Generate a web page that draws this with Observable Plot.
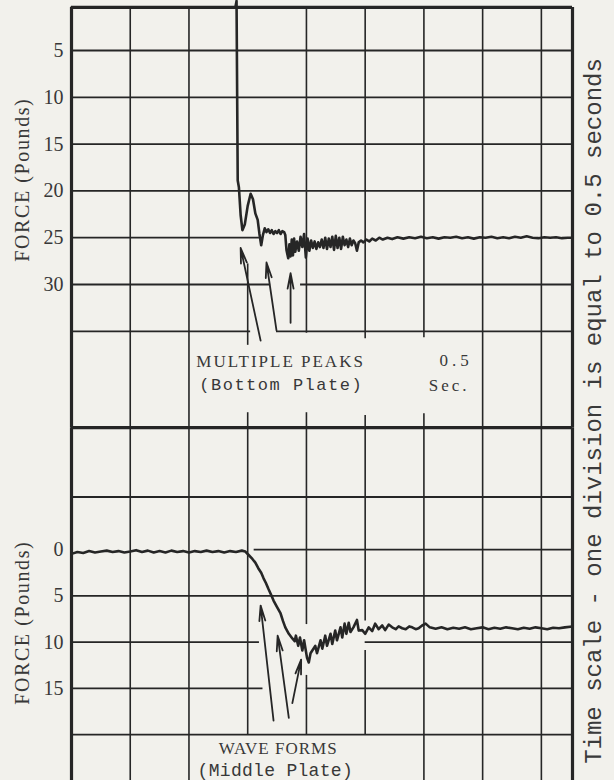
<!DOCTYPE html>
<html>
<head>
<meta charset="utf-8">
<script src="https://cdn.jsdelivr.net/npm/d3@7"></script>
<script src="https://cdn.jsdelivr.net/npm/@observablehq/plot@0.6"></script>
<style>
  html, body { margin: 0; padding: 0; background: #f2f1ec; }
  #wrap { position: relative; width: 614px; height: 780px; overflow: hidden; background: #f2f1ec; }
  #wrap svg { position: absolute; left: 0; top: 0; }
  #timescale {
    position: absolute; left: 595px; top: 411px;
    transform: translate(-50%, -50%) rotate(-90deg);
    font-family: "Liberation Mono", monospace; font-size: 24px;
    white-space: nowrap; color: #3a3a3a; line-height: 1;
  }
</style>
</head>
<body>
<div id="wrap"><div id="timescale">Time scale - one division is equal to 0.5 seconds</div></div>
<script>
// x unit: grid division (one division = 0.5 seconds); y unit: force in pounds (drawn increasing downward)
const X_MAX = 8.53;

// Top recording: MULTIPLE PEAKS (Bottom Plate) — [division, force]
const topTrace = [
  [0,0.4],[2.79,0.4],[2.81,-0.3],[2.83,18.9],[2.85,19.6],[2.88,22.6],[2.91,24.2],[2.95,23.6],
  [3.00,21.6],[3.05,20.3],[3.09,20.9],[3.13,22.4],[3.17,23.1],[3.20,24.6],[3.23,25.8],[3.26,24.7],
  [3.29,24.0],[3.32,24.4],[3.35,24.1],[3.38,24.5],[3.41,24.2],[3.44,24.6],[3.47,24.3],[3.50,24.5],
  [3.53,24.2],[3.56,24.6],[3.59,24.3],[3.62,24.4],[3.64,24.7],[3.66,26.3],[3.69,27.2],[3.71,25.7],
  [3.73,27.0],[3.75,25.2],[3.77,26.9],[3.79,25.1],[3.81,26.5],[3.84,25.4],[3.87,26.4],[3.90,24.9],
  [3.93,26.0],[3.96,24.6],[3.99,27.1],[4.02,25.1],[4.05,26.4],[4.08,25.3],[4.11,26.1],[4.14,25.4],
  [4.17,26.2],[4.20,25.5],[4.23,26.0],[4.26,25.2],[4.29,26.1],[4.32,25.0],[4.35,26.2],[4.38,25.1],
  [4.41,26.0],[4.44,24.9],[4.47,26.3],[4.50,24.8],[4.53,26.1],[4.56,25.0],[4.59,26.2],[4.62,24.9],
  [4.65,25.8],[4.68,25.2],[4.71,26.0],[4.74,25.1],[4.77,25.8],[4.80,25.3],[4.83,25.6],[4.86,26.4],
  [4.89,25.5],[4.93,25.3],[4.97,25.5],[5.02,25.2],[5.07,25.4],[5.12,25.1],[5.18,25.3],[5.24,25.0],
  [5.30,25.2],[5.38,25.0],[5.46,25.15],[5.55,24.95],[5.65,25.1],[5.75,24.95],[5.85,25.05],[5.95,24.9],
  [6.05,25.05],[6.15,24.95],[6.25,25.1],[6.35,24.95],[6.45,25.0],[6.55,24.9],[6.65,25.05],[6.75,24.95],
  [6.85,25.1],[6.95,24.95],[7.05,25.0],[7.15,24.9],[7.25,25.05],[7.35,24.95],[7.45,25.05],[7.55,24.9],
  [7.65,25.0],[7.75,24.85],[7.85,25.0],[7.95,25.05],[8.05,24.95],[8.15,25.0],[8.25,24.95],[8.35,25.05],
  [8.45,25.0],[8.53,25.0]
];

// Bottom recording: WAVE FORMS (Middle Plate) — [division, force]
const bottomTrace = [
  [0,0.45],[0.1,0.25],[0.2,0.35],[0.3,0.15],[0.4,0.3],[0.5,0.2],[0.6,0.1],[0.7,0.25],[0.8,0.15],
  [0.9,0.3],[1.0,0.2],[1.1,0.05],[1.2,0.25],[1.3,0.1],[1.4,0.3],[1.5,0.15],[1.6,0.3],[1.7,0.1],
  [1.8,0.25],[1.9,0.15],[2.0,0.3],[2.1,0.15],[2.2,0.25],[2.3,0.1],[2.4,0.25],[2.5,0.15],[2.6,0.3],
  [2.7,0.15],[2.8,0.25],[2.9,0.1],[2.96,0.2],[3.02,0.6],[3.08,1.0],[3.13,1.4],[3.18,2.0],[3.23,2.5],
  [3.27,3.1],[3.31,3.6],[3.35,4.2],[3.40,4.9],[3.44,5.5],[3.50,6.2],[3.56,6.9],[3.60,7.7],[3.64,8.4],
  [3.70,9.1],[3.76,9.6],[3.80,9.9],[3.82,9.3],[3.86,10.4],[3.89,9.5],[3.93,10.9],[3.96,9.8],[4.01,11.7],
  [4.04,12.2],[4.07,11.2],[4.10,10.9],[4.15,10.4],[4.18,11.2],[4.24,9.8],[4.27,10.7],[4.32,9.3],
  [4.35,10.4],[4.41,9.1],[4.44,10.2],[4.49,8.75],[4.52,9.8],[4.58,8.4],[4.61,9.5],[4.65,8.0],[4.68,9.1],
  [4.72,7.9],[4.75,8.9],[4.80,8.4],[4.86,7.6],[4.89,8.75],[4.95,8.7],[5.00,9.1],[5.06,8.4],[5.12,8.8],
  [5.17,8.0],[5.23,8.6],[5.29,8.2],[5.34,8.7],[5.40,8.1],[5.46,8.4],[5.52,8.6],[5.57,8.3],[5.63,8.5],
  [5.69,8.6],[5.75,8.3],[5.80,8.4],[5.86,8.6],[5.91,8.5],[5.97,8.2],[6.03,8.0],[6.10,8.4],[6.2,8.55],
  [6.3,8.4],[6.4,8.6],[6.5,8.45],[6.6,8.55],[6.7,8.4],[6.8,8.6],[6.9,8.5],[7.0,8.4],[7.1,8.6],[7.2,8.45],
  [7.3,8.55],[7.4,8.4],[7.5,8.5],[7.6,8.6],[7.7,8.45],[7.8,8.55],[7.9,8.4],[8.0,8.5],[8.1,8.6],
  [8.2,8.45],[8.3,8.5],[8.4,8.4],[8.53,8.3]
];

// Tick labels
const topTicks = [5, 10, 15, 20, 25, 30];
const bottomTicks = [0, 5, 10, 15];

// Grid segments: horizontal [force, fromDiv, toDiv]; vertical [div, fromForce, toForce]
const topHGrid = [[5,0,X_MAX],[10,0,X_MAX],[15,0,X_MAX],[20,0,X_MAX],[25,0,3.2],
  [30,0,3.39],[30,3.9,X_MAX],[35,0,3.05],[35,3.49,X_MAX]];
const topHFrame = [[0.4,0,X_MAX],[45.3,0,X_MAX]];
const topVGrid = [[1,0.4,45.3],[2,0.4,45.3],[3,27.8,36.5],[3,43.7,45.3],[4,0.4,35.2],[4,43.7,45.3],
  [5,0.4,35.8],[5,44.0,45.3],[6,0.4,35.7],[6,43.8,45.3],[7,0.4,45.3],[8,0.4,45.3]];
const topVFrame = [[0,0.4,45.3],[X_MAX,0.4,45.3]];

const bottomHGrid = [[-5.7,0,X_MAX],[0,3.11,X_MAX],[5,0,X_MAX],[10,0,3.2],[10,5.0,X_MAX],
  [15,0,3.26],[15,4.0,X_MAX],[20,0,X_MAX]];
const bottomVGrid = [[1,-13.2,26],[2,-13.2,26],[3,-13.2,20],[4,-13.2,8.1],[4,13.6,20],
  [5,-13.2,7.7],[5,10.9,20],[6,-13.2,26],[7,-13.2,26],[8,-13.2,26]];
const bottomVFrame = [[0,-13.2,26],[X_MAX,-13.2,26]];

// Arrows [tailDiv, tailForce, tipDiv, tipForce]
const topArrows = [[3.22,36.0,2.88,26.1],[3.49,34.9,3.32,27.65],[3.73,34.1,3.73,28.8]];
const bottomArrows = [[3.44,18.5,3.22,6.05],[3.70,18.2,3.51,9.3],[3.76,16.6,3.91,11.9]];

// Annotations [text, div, force, font, size]
const topNotes = [
  ["MULTIPLE PEAKS", 3.56, 38.2, "Liberation Serif", 17],
  ["(Bottom Plate)", 3.57, 40.7, "Liberation Mono", 17],
  ["0.5", 6.55, 38.1, "Liberation Serif", 17],
  ["Sec.", 6.43, 40.8, "Liberation Serif", 17]
];
const bottomNotes = [
  ["WAVE FORMS", 3.52, 21.5, "Liberation Serif", 17],
  ["(Middle Plate)", 3.47, 23.9, "Liberation Mono", 18]
];
const topTitle = [["FORCE (Pounds)", -0.834, 18.8]];
const bottomTitle = [["FORCE (Pounds)", -0.834, 7.9]];

const letterSpacing = {"FORCE (Pounds)": 1.6, "MULTIPLE PEAKS": 2, "(Bottom Plate)": 1.5,
  "0.5": 4, "Sec.": 3, "WAVE FORMS": 1, "(Middle Plate)": 0.3};

const INK = "#262626";
const TXT = "#383838";

function panel(cfg) {
  const marks = [
    Plot.ruleY(cfg.hGrid, {y: d => d[0], x1: d => d[1], x2: d => d[2], stroke: INK, strokeWidth: 1.8}),
    Plot.ruleX(cfg.vGrid, {x: d => d[0], y1: d => d[1], y2: d => d[2], stroke: INK, strokeWidth: 1.6}),
    Plot.ruleX(cfg.vFrame, {x: d => d[0], y1: d => d[1], y2: d => d[2], stroke: INK, strokeWidth: 3.2}),
    Plot.axisY(cfg.ticks, {tickSize: 0, tickPadding: 8, label: null, fontSize: 20,
      fontFamily: "Liberation Serif", fill: TXT}),
    Plot.line(cfg.trace, {x: d => d[0], y: d => d[1], stroke: INK, strokeWidth: 2.6,
      strokeLinejoin: "round", strokeLinecap: "round"}),
    Plot.arrow(cfg.arrows, {x1: d => d[0], y1: d => d[1], x2: d => d[2], y2: d => d[3],
      stroke: INK, strokeWidth: 1.8, headLength: 13, headAngle: 22}),
    ...cfg.notes.map(n => Plot.text([n], {x: d => d[1], y: d => d[2], text: d => d[0],
      fontFamily: n[3], fontSize: n[4], fill: TXT})),
    Plot.text(cfg.title, {x: d => d[1], y: d => d[2], text: d => d[0], rotate: -90,
      fontFamily: "Liberation Serif", fontSize: 20, fill: TXT})
  ];
  if (cfg.hFrame) marks.splice(1, 0, Plot.ruleY(cfg.hFrame, {y: d => d[0], x1: d => d[1], x2: d => d[2], stroke: INK, strokeWidth: 3.2}));
  const svg = Plot.plot({
    width: 614, height: 780,
    marginLeft: 71, marginRight: 42, marginTop: cfg.mt, marginBottom: cfg.mb,
    x: {domain: [0, X_MAX], axis: null},
    y: {domain: cfg.yDomain, reverse: true, axis: null},
    style: {background: "transparent", overflow: "visible", fontFamily: "Liberation Serif"},
    marks
  });
  d3.select(svg).selectAll("text").each(function() {
    const s = letterSpacing[this.textContent];
    if (s != null) this.setAttribute("letter-spacing", s);
  });
  return svg;
}

const wrap = document.getElementById("wrap");
wrap.appendChild(panel({
  yDomain: [0, 45.3], mt: 3.2, mb: 352.8, ticks: topTicks, trace: topTrace,
  hGrid: topHGrid, hFrame: topHFrame, vGrid: topVGrid, vFrame: topVFrame,
  arrows: topArrows, notes: topNotes, title: topTitle
}));
wrap.appendChild(panel({
  yDomain: [-13.2, 24.97], mt: 427.2, mb: 0, ticks: bottomTicks, trace: bottomTrace,
  hGrid: bottomHGrid, hFrame: null, vGrid: bottomVGrid, vFrame: bottomVFrame,
  arrows: bottomArrows, notes: bottomNotes, title: bottomTitle
}));
</script>
</body>
</html>
